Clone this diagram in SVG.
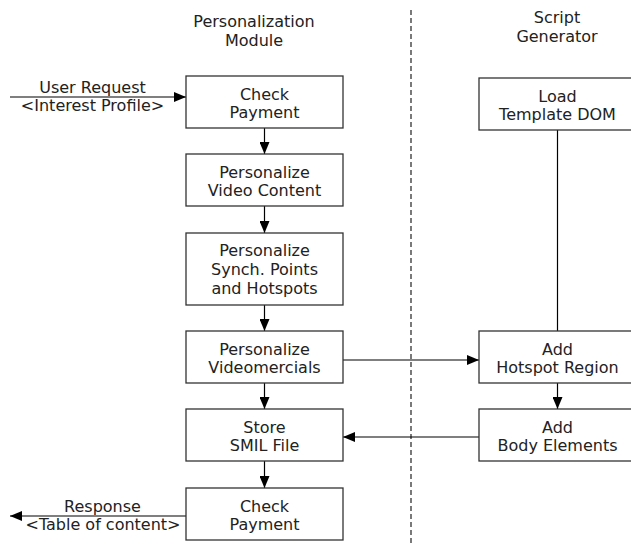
<svg xmlns="http://www.w3.org/2000/svg" width="631" height="544" viewBox="0 0 631 544">
<style>
text{font-family:"DejaVu Sans","Verdana",sans-serif;font-size:16px;fill:#222;text-anchor:middle}
.box{fill:#fff;stroke:#333;stroke-width:1.3}
.ln{stroke:#000;stroke-width:1.2;fill:none}
.dash{stroke:#222;stroke-width:1.2;stroke-dasharray:5 3;fill:none}
</style>
<defs>
<marker id="ah" markerUnits="userSpaceOnUse" markerWidth="12" markerHeight="10" refX="12" refY="5" orient="auto">
<path d="M0,0 L12,5 L0,10 z" fill="#000"/>
</marker>
</defs>
<rect width="631" height="544" fill="#fff"/>
<g id="headers">
<text x="254" y="27">Personalization</text>
<text x="254" y="46">Module</text>
<text x="557" y="23">Script</text>
<text x="557" y="42">Generator</text>
</g>
<line class="dash" x1="411" y1="10" x2="411" y2="544"/>
<g id="connectors">
<line class="ln" x1="10" y1="97" x2="186" y2="97" marker-end="url(#ah)"/>
<line class="ln" x1="264.5" y1="128" x2="264.5" y2="154" marker-end="url(#ah)"/>
<line class="ln" x1="264.5" y1="206" x2="264.5" y2="233" marker-end="url(#ah)"/>
<line class="ln" x1="264.5" y1="305" x2="264.5" y2="331" marker-end="url(#ah)"/>
<line class="ln" x1="264.5" y1="383" x2="264.5" y2="409" marker-end="url(#ah)"/>
<line class="ln" x1="264.5" y1="461" x2="264.5" y2="488" marker-end="url(#ah)"/>
<line class="ln" x1="343" y1="360" x2="479" y2="360" marker-end="url(#ah)"/>
<line class="ln" x1="557.5" y1="130" x2="557.5" y2="331"/>
<line class="ln" x1="557.5" y1="383" x2="557.5" y2="409" marker-end="url(#ah)"/>
<line class="ln" x1="479" y1="437" x2="343" y2="437" marker-end="url(#ah)"/>
<line class="ln" x1="186" y1="516" x2="10" y2="516" marker-end="url(#ah)"/>
<text x="92.5" y="93">User Request</text>
<text x="92.5" y="111">&lt;Interest Profile&gt;</text>
<text x="102.5" y="512">Response</text>
<text x="103" y="530">&lt;Table of content&gt;</text>
</g>
<g id="checkPayment1">
<rect class="box" x="186" y="76" width="157" height="52"/>
<text x="264.5" y="99.5">Check</text>
<text x="264.5" y="118">Payment</text>
</g>
<g id="personalizeVideo">
<rect class="box" x="186" y="154" width="157" height="52"/>
<text x="264.5" y="177.5">Personalize</text>
<text x="264.5" y="196">Video Content</text>
</g>
<g id="personalizeSynch">
<rect class="box" x="186" y="233" width="157" height="72"/>
<text x="264.5" y="256">Personalize</text>
<text x="264.5" y="275">Synch. Points</text>
<text x="264.5" y="294">and Hotspots</text>
</g>
<g id="personalizeVideomercials">
<rect class="box" x="186" y="331" width="157" height="52"/>
<text x="264.5" y="354.5">Personalize</text>
<text x="264.5" y="373">Videomercials</text>
</g>
<g id="storeSmil">
<rect class="box" x="186" y="409" width="157" height="52"/>
<text x="264.5" y="432.5">Store</text>
<text x="264.5" y="451">SMIL File</text>
</g>
<g id="checkPayment2">
<rect class="box" x="186" y="488" width="157" height="52"/>
<text x="264.5" y="511.5">Check</text>
<text x="264.5" y="530">Payment</text>
</g>
<g id="loadTemplate">
<rect class="box" x="479" y="78" width="160" height="52"/>
<text x="557.5" y="101.5">Load</text>
<text x="557.5" y="120">Template DOM</text>
</g>
<g id="addHotspot">
<rect class="box" x="479" y="331" width="160" height="52"/>
<text x="557.5" y="354.5">Add</text>
<text x="557.5" y="373">Hotspot Region</text>
</g>
<g id="addBody">
<rect class="box" x="479" y="409" width="160" height="52"/>
<text x="557.5" y="432.5">Add</text>
<text x="557.5" y="451">Body Elements</text>
</g>
</svg>
